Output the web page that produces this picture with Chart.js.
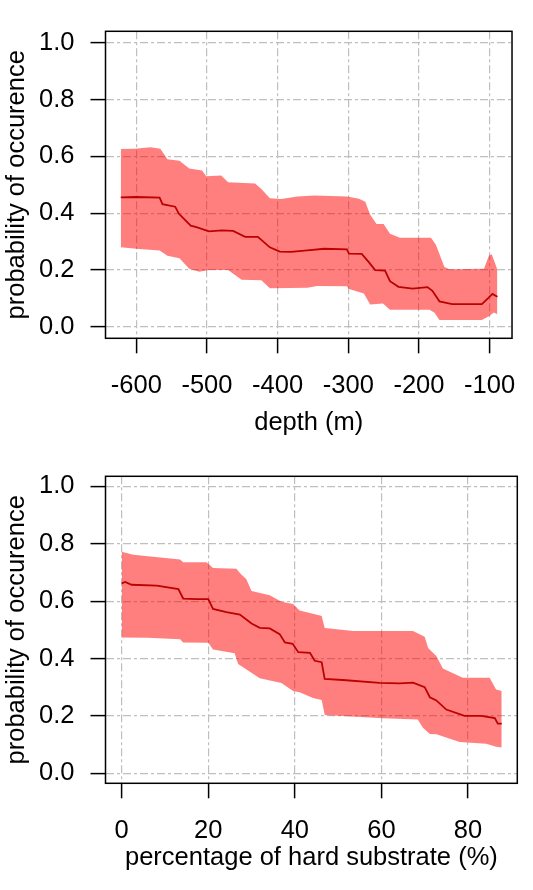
<!DOCTYPE html>
<html>
<head>
<meta charset="utf-8">
<script src="https://cdn.jsdelivr.net/npm/chart.js@4"></script>
<style>
  body { margin: 0; background: #fff; }
  canvas { display: block; }
</style>
</head>
<body>
<canvas id="depthChart" width="533" height="445"></canvas>
<canvas id="hardChart" width="533" height="445"></canvas>
<script>
// top panel: depth (m)
const depthTicks = [-600, -500, -400, -300, -200, -100];
const depthUpperX = [-622, -602, -580, -566, -556, -539, -525, -507, -501, -480, -470, -432, -423, -411, -395, -372, -348, -302, -285, -276, -269, -260, -250, -241, -227, -183, -176, -164, -157, -108, -101, -97, -92, -89];
const depthUpperY = [0.626, 0.627, 0.632, 0.627, 0.59, 0.585, 0.557, 0.55, 0.53, 0.533, 0.509, 0.505, 0.485, 0.453, 0.45, 0.459, 0.462, 0.459, 0.451, 0.44, 0.395, 0.362, 0.362, 0.328, 0.314, 0.314, 0.289, 0.211, 0.203, 0.205, 0.25, 0.256, 0.222, 0.2];
const depthLineX = [-622, -600, -567, -563, -545, -540, -523, -515, -497, -479, -463, -446, -428, -411, -397, -381, -358, -334, -302, -299, -281, -271, -262, -248, -241, -229, -209, -188, -181, -171, -153, -111, -102, -96, -89];
const depthLineY = [0.456, 0.457, 0.455, 0.432, 0.423, 0.399, 0.356, 0.351, 0.336, 0.34, 0.338, 0.317, 0.317, 0.28, 0.265, 0.264, 0.269, 0.275, 0.273, 0.258, 0.257, 0.228, 0.2, 0.198, 0.161, 0.141, 0.135, 0.14, 0.127, 0.09, 0.08, 0.08, 0.101, 0.116, 0.106];
const depthLowerX = [-622, -600, -567, -556, -539, -525, -511, -497, -470, -456, -451, -423, -411, -358, -344, -302, -299, -278, -269, -251, -241, -185, -178, -171, -111, -101, -94, -89];
const depthLowerY = [0.28, 0.275, 0.269, 0.25, 0.242, 0.205, 0.194, 0.2, 0.2, 0.175, 0.166, 0.164, 0.136, 0.138, 0.144, 0.143, 0.133, 0.118, 0.079, 0.082, 0.06, 0.06, 0.05, 0.024, 0.024, 0.038, 0.051, 0.045];

// bottom panel: percentage of hard substrate
const hardTicks = [0, 20, 40, 60, 80];
const hardUpperX = [0, 2.7, 13.5, 14.2, 19.6, 21.1, 26.5, 27.3, 28.8, 30, 34.2, 36.9, 39.6, 41.1, 45.8, 46.2, 46.9, 53.5, 67.3, 70, 70.8, 72.7, 74.2, 78.8, 85, 86.5, 87.8];
const hardUpperY = [0.772, 0.762, 0.745, 0.735, 0.735, 0.715, 0.713, 0.698, 0.676, 0.635, 0.62, 0.598, 0.59, 0.567, 0.55, 0.548, 0.506, 0.496, 0.496, 0.476, 0.437, 0.409, 0.365, 0.333, 0.333, 0.292, 0.287];
const hardLineX = [0, 0.8, 2.3, 8.1, 13.1, 14.2, 17.3, 20, 21.1, 24.2, 27.3, 30, 31.9, 34.2, 36.5, 37.7, 39.5, 40.8, 43.5, 44.6, 46.2, 46.9, 51.1, 59.6, 64.2, 67.3, 70, 71.2, 72.7, 75, 79.2, 83.1, 86.2, 86.9, 87.8];
const hardLineY = [0.662, 0.667, 0.657, 0.654, 0.642, 0.609, 0.607, 0.607, 0.573, 0.562, 0.553, 0.522, 0.507, 0.505, 0.485, 0.456, 0.451, 0.422, 0.42, 0.392, 0.387, 0.329, 0.325, 0.315, 0.313, 0.316, 0.3, 0.265, 0.254, 0.222, 0.2, 0.2, 0.192, 0.173, 0.173];
const hardLowerX = [0, 6, 13.5, 14.2, 20, 21.1, 26.1, 26.9, 31.9, 36.9, 39.6, 41.1, 44.2, 46.2, 46.9, 60.4, 68.4, 69.6, 71.2, 72.7, 78.1, 84.2, 86.5, 87.8];
const hardLowerY = [0.473, 0.472, 0.467, 0.456, 0.455, 0.431, 0.418, 0.381, 0.331, 0.315, 0.287, 0.282, 0.262, 0.255, 0.203, 0.192, 0.187, 0.159, 0.137, 0.136, 0.109, 0.103, 0.092, 0.09];

const probTicks = [0, 0.2, 0.4, 0.6, 0.8, 1.0];

const pts = (xs, ys) => xs.map((x, i) => ({ x: x, y: ys[i] }));
const font = { family: '"Liberation Sans", Arial, sans-serif', size: 25.5 };

// kader rond het plotgebied
const boxPlugin = {
    id: 'box',
    afterDraw(chart) {
        const a = chart.chartArea;
        const ctx = chart.ctx;
        ctx.save();
        ctx.strokeStyle = '#000';
        ctx.lineWidth = 1.5;
        ctx.strokeRect(a.left, a.top, a.right - a.left, a.bottom - a.top);
        ctx.restore();
    }
};

function makeChart(id, cfg) {
    const grid = {
        color: '#bfbfbf',
        lineWidth: 1.2,
        tickColor: '#000',
        tickWidth: 1.5,
        tickLength: 15
    };
    const border = { display: false, dash: [8, 3, 3, 3] };
    new Chart(document.getElementById(id), {
        type: 'line',
        data: {
            datasets: [
                { data: pts(cfg.upX, cfg.upY), borderWidth: 0, pointRadius: 0,
                  fill: '+1', backgroundColor: 'rgba(255,0,0,0.5)' },
                { data: pts(cfg.loX, cfg.loY), borderWidth: 0, pointRadius: 0, fill: false },
                { data: pts(cfg.lnX, cfg.lnY), borderColor: '#7a0000', borderWidth: 1.8,
                  pointRadius: 0, fill: false }
            ]
        },
        options: {
            responsive: false,
            animation: false,
            layout: { padding: { top: cfg.top, right: 15.7, left: 0, bottom: 0 } },
            plugins: { legend: { display: false }, tooltip: { enabled: false } },
            scales: {
                x: {
                    type: 'linear',
                    min: cfg.xMin,
                    max: cfg.xMax,
                    afterBuildTicks: s => { s.ticks = cfg.xTicks.map(v => ({ value: v })); },
                    afterFit: s => { s.height = 106.7; },
                    ticks: { font: font, color: '#000', padding: 17, maxRotation: 0,
                             autoSkip: false, callback: v => String(v) },
                    grid: grid,
                    border: border,
                    title: { display: true, text: cfg.xTitle, font: font, color: '#000',
                             padding: { top: 0, bottom: cfg.titlePad } }
                },
                y: {
                    min: cfg.yMin,
                    max: cfg.yMax,
                    afterBuildTicks: s => { s.ticks = probTicks.map(v => ({ value: v })); },
                    afterFit: s => { s.width = 105.5; },
                    ticks: { font: font, color: '#000', padding: 16, autoSkip: false,
                             callback: v => v.toFixed(1) },
                    grid: grid,
                    border: border,
                    title: { display: true, text: 'probability of occurence', font: font,
                             color: '#000', padding: { top: 2, bottom: 0 } }
                }
            }
        },
        plugins: [boxPlugin]
    });
}

makeChart('depthChart', {
    upX: depthUpperX, upY: depthUpperY, loX: depthLowerX, loY: depthLowerY,
    lnX: depthLineX, lnY: depthLineY, xTicks: depthTicks,
    xMin: -643.6, xMax: -68.3, yMin: -0.04, yMax: 1.04,
    top: 15.7, titlePad: 6.5, xTitle: 'depth (m)'
});

makeChart('hardChart', {
    upX: hardUpperX, upY: hardUpperY, loX: hardLowerX, loY: hardLowerY,
    lnX: hardLineX, lnY: hardLineY, xTicks: hardTicks,
    xMin: -3.74, xMax: 91.4, yMin: -0.035, yMax: 1.035,
    top: 17.3, titlePad: 16.5, xTitle: 'percentage of hard substrate (%)'
});
</script>
</body>
</html>
